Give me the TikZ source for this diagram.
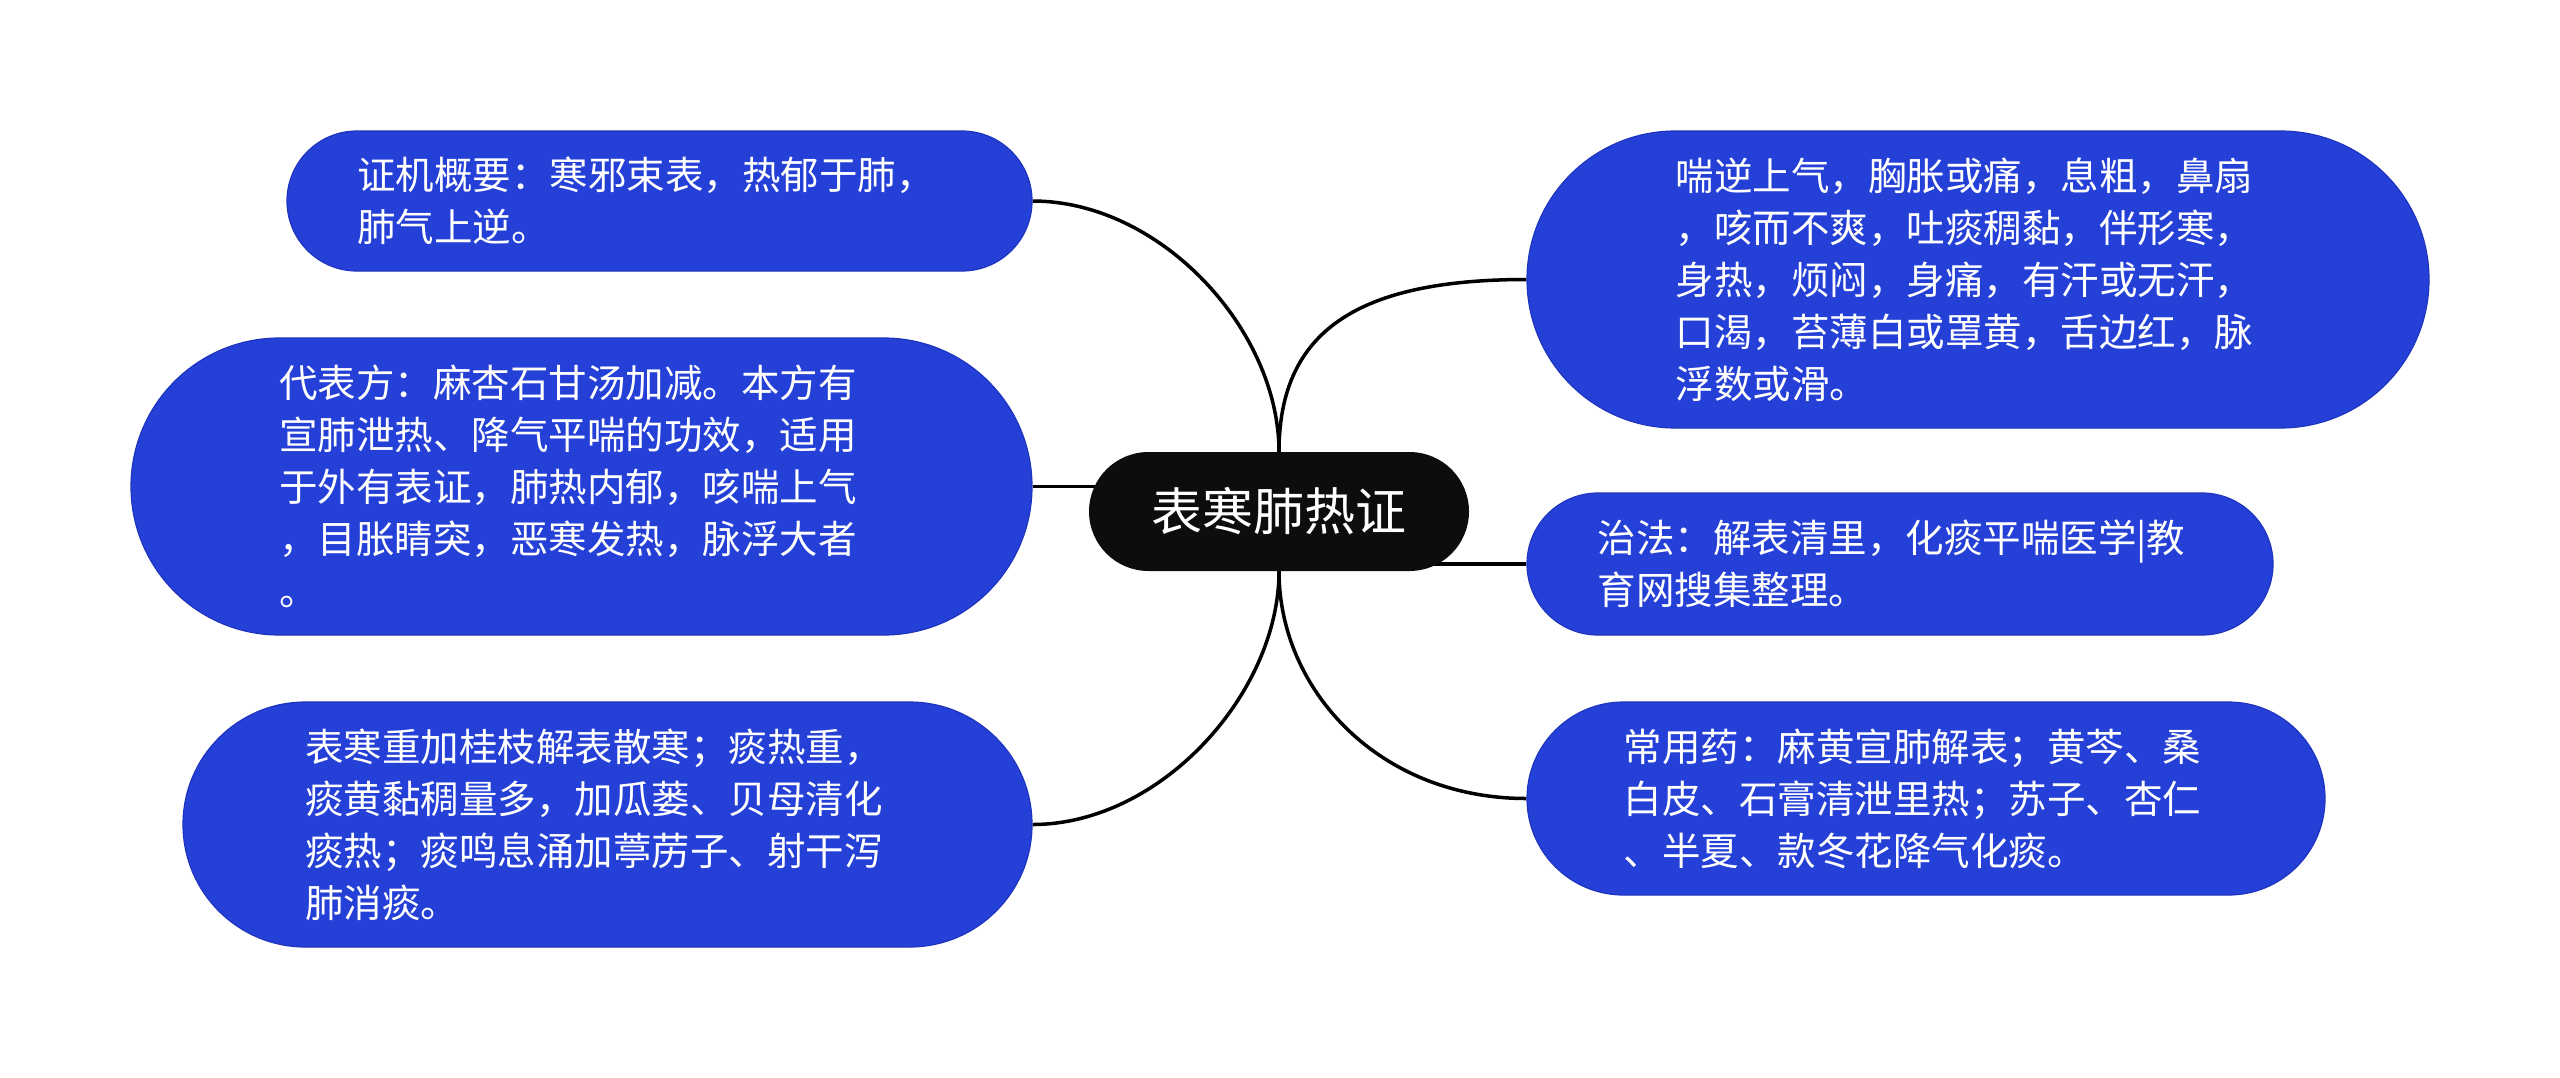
\documentclass[tikz,border=0pt]{standalone}
\usepackage{fontspec}
\newfontfamily\cjk{Noto Sans CJK SC}
\usetikzlibrary{backgrounds}
\definecolor{leafblue}{RGB}{37,64,215}
\definecolor{leafedge}{RGB}{30,52,190}
\definecolor{rootblack}{RGB}{13,13,13}
\begin{document}
\begin{tikzpicture}[x=1pt,y=-1pt,
  leaf/.style={rectangle, fill=leafblue, draw=leafedge, line width=1.2pt, text=white,
    font=\cjk\fontsize{38.5}{52}\selectfont, align=left, text width=605pt, inner sep=0pt},
  root/.style={rectangle, rounded corners=59.5pt, fill=rootblack, text=white,
    font=\cjk\fontsize{51}{60}\selectfont, minimum width=380pt, minimum height=119pt, inner sep=0pt},
  conn/.style={draw=black, line width=3.5pt}]
\useasboundingbox (0,0) rectangle (2560,1077);

\node[root] (c) at (1279,511.5) {表寒肺热证};

\node[leaf, minimum width=745pt, minimum height=140pt, rounded corners=70pt] (l1) at (659.5,201)
  {证机概要：寒邪束表，热郁于肺，\\肺气上逆。};
\node[leaf, minimum width=901pt, minimum height=297pt, rounded corners=148.5pt] (l2) at (581.5,486.5)
  {代表方：麻杏石甘汤加减。本方有\\宣肺泄热、降气平喘的功效，适用\\于外有表证，肺热内郁，咳喘上气\\，目胀睛突，恶寒发热，脉浮大者\\。};
\node[leaf, minimum width=849pt, minimum height=245pt, rounded corners=122.5pt] (l3) at (607.5,824.5)
  {表寒重加桂枝解表散寒；痰热重，\\痰黄黏稠量多，加瓜蒌、贝母清化\\痰热；痰鸣息涌加葶苈子、射干泻\\肺消痰。};

\node[leaf, minimum width=902pt, minimum height=297pt, rounded corners=148.5pt] (r1) at (1978,279.5)
  {喘逆上气，胸胀或痛，息粗，鼻扇\\，咳而不爽，吐痰稠黏，伴形寒，\\身热，烦闷，身痛，有汗或无汗，\\口渴，苔薄白或罩黄，舌边红，脉\\浮数或滑。};
\node[leaf, minimum width=746pt, minimum height=142pt, rounded corners=71pt] (r2) at (1900,564)
  {治法：解表清里，化痰平喘医学|教\\育网搜集整理。};
\node[leaf, minimum width=798pt, minimum height=193pt, rounded corners=96.5pt] (r3) at (1926,798.5)
  {常用药：麻黄宣肺解表；黄芩、桑\\白皮、石膏清泄里热；苏子、杏仁\\、半夏、款冬花降气化痰。};

\begin{scope}[on background layer]
  \fill[white] (0,0) rectangle (2560,1077);
  \draw[conn] (l1.east) .. controls +(128,0) and +(0,-122) .. (c.north);
  \draw[conn] (l2.east) -- (l2.east -| c.center);
  \draw[conn] (l3.east) .. controls +(128,0) and +(0,122) .. (c.south);
  \draw[conn] (r1.west) .. controls +(-167,0) and +(0,-122) .. (c.north);
  \draw[conn] (r2.west) -- (r2.west -| c.center);
  \draw[conn] (r3.west) .. controls +(-147,0) and +(0,119) .. (c.south);
\end{scope}
\end{tikzpicture}
\end{document}
